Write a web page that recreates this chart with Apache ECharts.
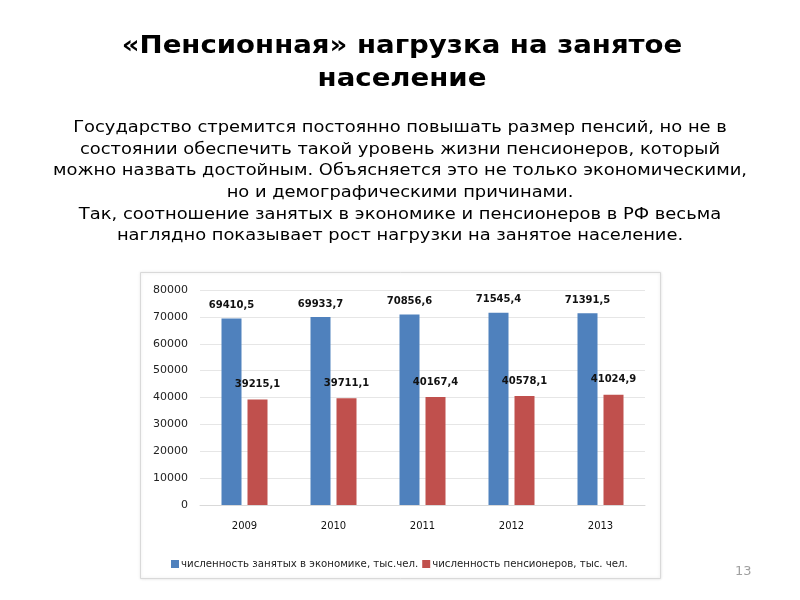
<!DOCTYPE html>
<html><head><meta charset="utf-8">
<script src="https://cdn.jsdelivr.net/npm/echarts@6/dist/echarts.min.js"></script>
<style>html,body{margin:0;padding:0;background:#fff}#c{width:800px;height:600px}</style>
</head><body><div id="c"></div>
<script>
const categories = ['2009', '2010', '2011', '2012', '2013'];
const employed = [69410.5, 69933.7, 70856.6, 71545.4, 71391.5];
const pensioners = [39215.1, 39711.1, 40167.4, 40578.1, 41024.9];
const seriesNames = ['численность занятых в экономике, тыс.чел.', 'численность пенсионеров, тыс. чел.'];
const yTicks = [0, 10000, 20000, 30000, 40000, 50000, 60000, 70000, 80000];

const titleLines = ['«Пенсионная» нагрузка на занятое', 'население'];
const bodyLines = [
  'Государство стремится постоянно повышать размер пенсий, но не в',
  'состоянии обеспечить такой уровень жизни пенсионеров, который',
  'можно назвать достойным. Объясняется это не только экономическими,',
  'но и демографическими причинами.',
  'Так, соотношение занятых в экономике и пенсионеров в РФ весьма',
  'наглядно показывает рост нагрузки на занятое население.'
];

const fmt = v => String(v).replace('.', ',');
const chart = echarts.init(document.getElementById('c'));
const titleFont = 'bold 24px "DejaVu Sans", sans-serif';
const bodyFont = '16px "DejaVu Sans", sans-serif';
const graphics = [
  {type:'rect', shape:{x:140.5, y:272.5, width:520, height:306}, style:{fill:'#fff', stroke:'#d9d9d9', lineWidth:1, shadowBlur:3, shadowColor:'rgba(0,0,0,0.12)'}, z:-10},
  {type:'text', x:402, y:47, scaleX:1.15, originX:0, style:{text:titleLines[0], font:titleFont, fill:'#000', align:'center', verticalAlign:'middle'}},
  {type:'text', x:402, y:80, scaleX:1.15, originX:0, style:{text:titleLines[1], font:titleFont, fill:'#000', align:'center', verticalAlign:'middle'}},
  {type:'text', left:735, top:565, style:{text:'13', font:'13px "DejaVu Sans", sans-serif', fill:'#a0a0a0'}}
];
bodyLines.forEach((t, i) => {
  graphics.push({type:'text', x:400, y:128 + i*21.6, scaleX:1.117, originX:0, style:{text:t, font:bodyFont, fill:'#000', align:'center', verticalAlign:'middle'}});
});

chart.setOption({
  animation:false,
  backgroundColor:'#fff',
  graphic: graphics,
  legend:{
    left:166, top:554, itemWidth:8, itemHeight:8, itemGap:4, icon:'rect',
    textStyle:{fontSize:10.2, color:'#222', fontFamily:'"DejaVu Sans", sans-serif', padding:[0,0,0,-3]},
    data: seriesNames
  },
  grid:{left:200, right:155, top:290, bottom:95, containLabel:false},
  xAxis:{
    type:'category', data:categories,
    axisLine:{show:true, lineStyle:{color:'#d9d9d9'}}, axisTick:{show:false},
    axisLabel:{fontSize:10, color:'#111', margin:16, fontFamily:'"DejaVu Sans", sans-serif'}
  },
  yAxis:{
    type:'value', min:0, max:80000, interval:10000,
    axisLine:{show:false}, axisTick:{show:false},
    splitLine:{lineStyle:{color:'#e6e6e6'}},
    axisLabel:{fontSize:11, color:'#222', margin:12, fontFamily:'"DejaVu Sans", sans-serif', formatter: v => yTicks.includes(v) ? String(v) : ''}
  },
  series:[
    {name:seriesNames[0], type:'bar', data:employed, barWidth:20, barGap:'30%', itemStyle:{color:'#4f81bd'},
     label:{show:true, position:'top', distance:8, formatter:p=>fmt(p.value), fontSize:10, fontWeight:'bold', color:'#111', fontFamily:'"DejaVu Sans", sans-serif'}},
    {name:seriesNames[1], type:'bar', data:pensioners, barWidth:20, itemStyle:{color:'#c0504d'},
     label:{show:true, position:'top', distance:10, formatter:p=>fmt(p.value), fontSize:10, fontWeight:'bold', color:'#111', fontFamily:'"DejaVu Sans", sans-serif'}}
  ]
});
</script></body></html>
